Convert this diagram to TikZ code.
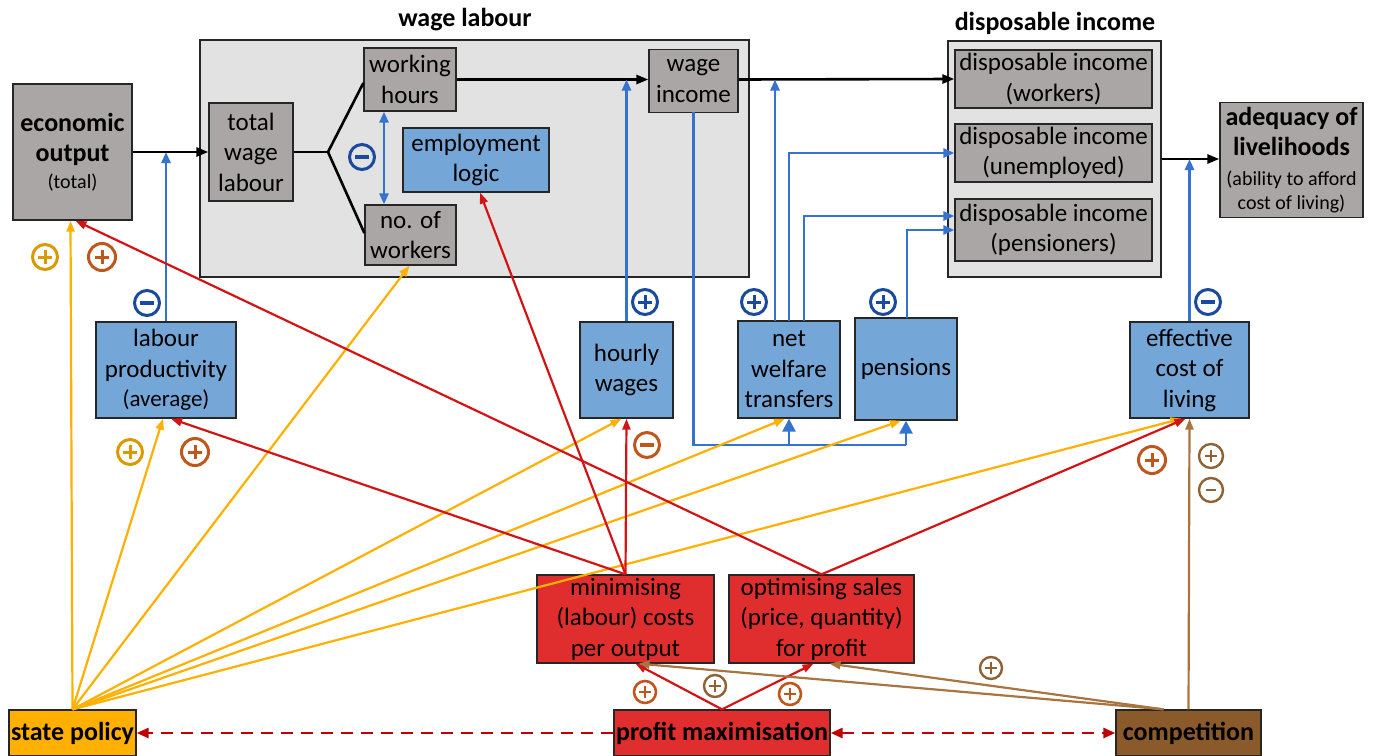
\documentclass[tikz,border=0pt]{standalone}
\usepackage{fontspec}
\setmainfont{Carlito}
\usetikzlibrary{arrows.meta,calc}

\definecolor{boxgray}{HTML}{ABA6A6}
\definecolor{groupgray}{HTML}{E2E2E2}
\definecolor{boxblue}{HTML}{74A7D7}
\definecolor{lineblue}{HTML}{3673CF}
\definecolor{signblue}{HTML}{1A4A9E}
\definecolor{lineyellow}{HTML}{FFB000}
\definecolor{signyellow}{HTML}{D99A00}
\definecolor{linered}{HTML}{D41414}
\definecolor{signorange}{HTML}{C0561C}
\definecolor{linebrown}{HTML}{A8743F}
\definecolor{signbrown}{HTML}{8E6232}
\definecolor{policyfill}{HTML}{FFB000}
\definecolor{profitfill}{HTML}{E02E2E}
\definecolor{competfill}{HTML}{8B5A2B}
\definecolor{dashred}{HTML}{C00000}

% line-level font switches (each line of an aligned node is its own group)
\newcommand\bigbold[1]{{\bfseries\fontsize{26}{30}\selectfont #1}}
\newcommand\smalltxt[2]{{\fontsize{#1}{#1}\selectfont #2}}

\tikzset{
  sized/.style 2 args={minimum width=#1pt, minimum height=#2pt},
  box/.style={draw=black!85, line width=1.3pt, inner sep=0pt, align=center,
    font=\fontsize{25}{30.5}\selectfont, text=black},
  graybox/.style={box, fill=boxgray},
  bluebox/.style={box, fill=boxblue},
  redbox/.style={box, fill=profitfill},
  group/.style={draw=black!85, line width=1.3pt, fill=groupgray},
  title/.style={font=\bfseries\fontsize{26}{30}\selectfont},
  drivebox/.style={box, font=\bfseries\fontsize{26}{30}\selectfont},
  blk/.style={draw=black, line width=2.6pt},
  blkarrow/.style={blk, -{Triangle[length=12pt,width=9pt]}},
  blu/.style={draw=lineblue, line width=2.6pt},
  bluarrow/.style={blu, -{Triangle[length=11pt,width=9pt]}},
  bigbluarrow/.style={blu, -{Triangle[length=13pt,width=13pt]}},
  yel/.style={draw=lineyellow, line width=2.2pt, -{Triangle[length=11pt,width=8pt]}},
  rd/.style={draw=linered, line width=2.2pt, -{Triangle[length=11pt,width=8pt]}},
  brn/.style={draw=linebrown, line width=2.2pt, -{Triangle[length=11pt,width=8pt]}},
  dsh/.style={draw=dashred, line width=2.6pt, dash pattern=on 12pt off 8pt},
  sgn/.style={circle, draw, line width=#1, minimum size=25pt, inner sep=0pt},
  sgn/.default=3pt,
  plussign/.style={path picture={
      \draw[line width=3pt] ($(path picture bounding box.center)+(-7,0)$) -- ++(14,0);
      \draw[line width=3pt] ($(path picture bounding box.center)+(0,-7)$) -- ++(0,14);}},
  minussign/.style={path picture={
      \draw[line width=3.6pt] ($(path picture bounding box.center)+(-7,0)$) -- ++(14,0);}},
  thinplus/.style={path picture={
      \draw[line width=2.4pt] ($(path picture bounding box.center)+(-6,0)$) -- ++(12,0);
      \draw[line width=2.4pt] ($(path picture bounding box.center)+(0,-6)$) -- ++(0,12);}},
  thinminus/.style={path picture={
      \draw[line width=2.6pt] ($(path picture bounding box.center)+(-5,0)$) -- ++(10,0);}},
}

\begin{document}
\begin{tikzpicture}[x=1pt, y=-1pt]
\useasboundingbox (0,0) rectangle (1375,755);

% group frames and their titles
\node[group, sized={549}{237}] (wlgrp) at (474.5,158.5) {};
\node[title] (wltitle) at (465,20) {wage labour};
\node[group, sized={213}{236}] (digrp) at (1054.5,159) {};
\node[title] (dititle) at (1055,23) {disposable income};

% upper row
\node[graybox, sized={119}{136}] (eco) at (72.5,152)
  {\bigbold{economic}\\\bigbold{output}\\[-4pt]\smalltxt{20}{(total)}};
\node[graybox, sized={84}{98}] (twl) at (251,152) {total\\wage\\labour};
\node[graybox, sized={92}{63}] (wh) at (410,79.5) {working\\hours};
\node[bluebox, sized={146}{64}] (el) at (476,160) {employment\\logic};
\node[graybox, sized={91}{60}] (now) at (410.5,235) {no. of\\workers};
\node[graybox, sized={89}{63}] (wi) at (693.5,81) {wage\\income};
\node[graybox, sized={197}{58}] (dw) at (1053.5,79) {disposable income\\(workers)};
\node[graybox, sized={197}{58}] (du) at (1053.5,153) {disposable income\\(unemployed)};
\node[graybox, sized={197}{62}] (dp) at (1053.5,230) {disposable income\\(pensioners)};
\node[graybox, sized={143}{115}] (adq) at (1291.5,160)
  {\bigbold{adequacy of}\\\bigbold{livelihoods}\\[-1pt]
   \smalltxt{20}{(ability to afford}\\[-6pt]\smalltxt{20}{cost of living)}};

% middle row
\node[bluebox, sized={140}{96}] (lp) at (166,370)
  {labour\\productivity\\[-1pt]\smalltxt{23}{(average)}};
\node[bluebox, sized={93}{96}] (hw) at (626.5,370) {hourly\\wages};
\node[bluebox, sized={102}{97}] (nwt) at (789,369.5) {net\\welfare\\transfers};
\node[bluebox, sized={102}{102}] (pen) at (906,369) {pensions};
\node[bluebox, sized={119}{96}] (ecl) at (1189.5,370) {effective\\cost of\\living};

% strategies
\node[redbox, sized={177}{88}] (minc) at (625.5,619) {minimising\\(labour) costs\\per output};
\node[redbox, sized={185}{88}] (opt) at (821.5,619) {optimising sales\\(price, quantity)\\for profit};

% drivers
\node[drivebox, fill=policyfill, sized={127}{46}] (sp) at (72.5,733) {state policy};
\node[drivebox, fill=profitfill, sized={216}{46}] (pm) at (722,733) {profit maximisation};
\node[drivebox, fill=competfill, sized={145}{46}] (comp) at (1188.5,733) {competition};

% helper points
\coordinate (fork) at (328,152);
\coordinate (nwtA) at (775,321);
\coordinate (nwtB) at (789,321);
\coordinate (nwtC) at (804,321);
\coordinate (penTop) at (907,318);
\coordinate (wiBot) at (693.5,112);
\coordinate (busY) at (0,445);

% black main flow
\draw[blkarrow] (eco.east) -- (twl.west);
\draw[blk] (twl.east) -- (fork);
\draw[blk] (wh.west |- 0,83) -- (fork) -- (now.west |- 0,233);
\draw[blkarrow] (wh.east) -- (wi.west |- wh.east);
\draw[blkarrow] (wi.east |- wh.east) -- (dw.west);
\draw[blkarrow] (digrp.east) -- (adq.west |- digrp.east);

% blue influences
\draw[blu, {Triangle[length=11pt,width=9pt]}-{Triangle[length=11pt,width=9pt]}]
  ($(wh.south)+(-26,0)$) -- ($(now.north)+(-26.5,0)$);
\draw[bluarrow] (lp.north) -- (lp.north |- eco.east);
\draw[bluarrow] (hw.north) -- (hw.north |- wh.east);
\draw[bluarrow] (nwtA) -- (nwtA |- wh.east);
\draw[bluarrow] (nwtB) -- (nwtB |- 0,153) -- (du.west);
\draw[bluarrow] (nwtC) -- (nwtC |- 0,216) -- (dw.west |- 0,216);
\draw[bluarrow] (penTop) -- (penTop |- 0,230) -- (dw.west |- 0,230);
\draw[bluarrow] (ecl.north) -- (ecl.north |- digrp.east);
\draw[blu] (wiBot) -- (wiBot |- busY) -- (pen.south |- busY);
\draw[bigbluarrow] (nwt.south |- busY) -- (nwt.south);
\draw[bigbluarrow] (pen.south |- busY) -- (pen.south);

% state policy
\draw[yel] (sp.north) -- ($(eco.south)+(-2,0)$);
\draw[yel] (sp.north) -- ($(lp.south)+(-3,0)$);
\draw[yel] (sp.north) -- ($(now.south)+(-1,0)$);
\draw[yel] (sp.north) -- ($(hw.south)+(-5,0)$);
\draw[yel] (sp.north) -- ($(nwt.south)+(-4,0)$);
\draw[yel] (sp.north) -- ($(pen.south)+(-5,0)$);
\draw[yel] (sp.north) -- ($(ecl.south)+(-8,0)$);

% business strategies
\draw[rd] (minc.north) -- ($(el.south)+(4,0)$);
\draw[rd] (minc.north) -- (hw.south);
\draw[rd] (minc.north) -- ($(lp.south)+(5,0)$);
\draw[rd] (opt.north) -- ($(eco.south)+(3,0)$);
\draw[rd] (opt.north) -- ($(ecl.south)+(-4,0)$);
\draw[rd] (pm.north) -- ($(minc.south)+(10,0)$);
\draw[rd] (pm.north) -- ($(opt.south)+(-8,0)$);

% competition
\draw[brn] (comp.north) -- (ecl.south);
\draw[brn] ($(comp.north)+(-25,0)$) -- ($(minc.south)+(13,0)$);
\draw[brn] ($(comp.north)+(-25,0)$) -- ($(opt.south)+(8,0)$);

% mutual relations of the drivers
\draw[dsh, -{Triangle[length=12pt,width=10pt]}] (pm.west) -- (sp.east);
\draw[dsh, {Triangle[length=12pt,width=10pt]}-{Triangle[length=12pt,width=10pt]}] (pm.east) -- (comp.west);

% polarity signs
\node[sgn, color=signyellow, plussign] (s1) at (45,257) {};
\node[sgn, color=signorange, plussign, minimum size=27pt] (s2) at (102,257) {};
\node[sgn, color=signblue, minussign] (s3) at (147,303) {};
\node[sgn, color=signyellow, plussign] (s4) at (130,452) {};
\node[sgn, color=signorange, plussign, minimum size=27pt] (s5) at (195,452) {};
\node[sgn, color=signblue, plussign] (s6) at (645,302) {};
\node[sgn, color=signorange, minussign] (s7) at (647,445) {};
\node[sgn, color=signblue, plussign] (s8) at (754,302) {};
\node[sgn, color=signblue, plussign] (s9) at (883,302) {};
\node[sgn, color=signblue, minussign] (s10) at (1208,302) {};
\node[sgn, color=signorange, plussign, minimum size=27pt] (s11) at (1152,460) {};
\node[sgn=2.4pt, color=signbrown, thinplus, minimum size=24pt] (s12) at (1211,456) {};
\node[sgn=2.4pt, color=signbrown, thinminus, minimum size=24pt] (s13) at (1211,490) {};
\node[sgn, color=signblue, minussign] (s14) at (362,157) {};
\node[sgn=2.6pt, color=signorange, thinplus, minimum size=22pt] (s15) at (645,692) {};
\node[sgn=2.4pt, color=signbrown, thinplus, minimum size=22pt] (s16) at (715,686) {};
\node[sgn=2.6pt, color=signorange, thinplus, minimum size=22pt] (s17) at (790,694) {};
\node[sgn=2.4pt, color=signbrown, thinplus, minimum size=22pt] (s18) at (991,668) {};
\end{tikzpicture}
\end{document}
